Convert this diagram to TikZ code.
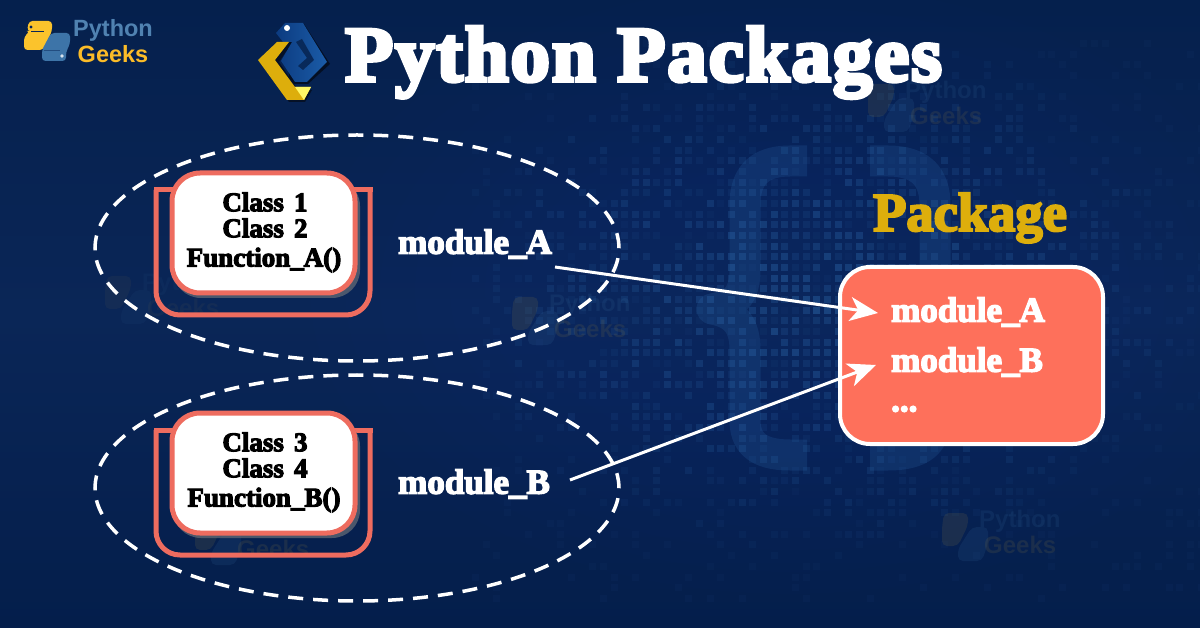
\documentclass[tikz,border=0pt]{standalone}
\usepackage{fontspec}
\setmainfont{Liberation Serif}[BoldFont={Liberation Serif Bold}]
\newfontfamily\heavyserif{Liberation Serif Bold}[FakeBold=4]
\newfontfamily\classserif{Liberation Serif Bold}[FakeBold=4,WordSpace=1.5]
\newfontfamily\titleserif{Liberation Serif Bold}[FakeBold=5,LetterSpace=2.7]
\newfontfamily\logosans{Liberation Sans Bold}
\usetikzlibrary{arrows.meta,shapes.geometric,calc}
\definecolor{navy}{HTML}{0A2657}
\definecolor{navytop}{HTML}{05204D}
\definecolor{navybot}{HTML}{041E4B}
\definecolor{salmon}{HTML}{EE6C5F}
\definecolor{coral}{HTML}{FE705B}
\definecolor{gold}{HTML}{DDAE0C}
\definecolor{pyblue}{HTML}{3D74A8}
\definecolor{pyyellow}{HTML}{FBC32C}
\definecolor{pixel}{HTML}{2F6DB0}
\definecolor{hexdark}{HTML}{0C3B80}
\definecolor{hexlight}{HTML}{1B5CA8}
\tikzset{
  dashring/.style={draw=white,line width=3.5pt,dash pattern=on 15pt off 10pt},
  trayframe/.style={draw=salmon,line width=5pt,rounded corners=24pt},
  trayflange/.style={fill=salmon},
  classcard/.style={draw=salmon,line width=5pt,fill=white,rounded corners=28pt,minimum width=183pt,minimum height=120pt,inner sep=0pt},
  cardshadow/.style={fill=gray!70!navy,rounded corners=28pt,opacity=.8},
  cardtext/.style={font=\classserif\fontsize{27}{27}\selectfont,text=black,inner sep=0pt},
  modtext/.style={font=\heavyserif\fontsize{35}{35}\selectfont,text=white,inner sep=0pt},
  linkarrow/.style={draw=white,line width=3pt,-{Stealth[length=28pt,width=24pt,inset=8pt]}},
  wmtext/.style={font=\logosans\fontsize{24}{24}\selectfont,inner sep=0pt},
}
% faint Python Geeks watermark: #1 x, #2 y, #3 opacity
\newcommand{\pgwatermark}[3]{%
  \begin{scope}[shift={(#1,#2)},opacity=#3]
    \fill[pyyellow!60!navy,rounded corners=5pt] (2,0) -- (26,0) -- (26,12) -- (16,33) -- (0,33) -- (0,14) -- cycle;
    \fill[pyblue,rounded corners=5pt] (30,14) -- (46,14) -- (46,30) -- (40,48) -- (16,48) -- (16,36) -- cycle;
    \node[wmtext,text=pyblue,anchor=west] (wmp#1) at (37,8) {Python};
    \node[wmtext,text=pyyellow!60!navy,anchor=west] (wmg#1) at (42,32) {Geeks};
  \end{scope}}
\begin{document}
\begin{tikzpicture}[x=1pt,y=-1pt]
\useasboundingbox (0,0) rectangle (1200,628);
% background
\shade[top color=navytop,bottom color=navybot,middle color=navy] (0,0) rectangle (1200,628);
\foreach \k in {1,...,12}{
  \fill[pixel,opacity=.012] (790,290) ellipse ({60+\k*35} and {40+\k*22});
}
% pixel field
\pgfmathsetseed{4711}
\foreach \col in {0,...,68}{
  \foreach \row in {0,...,52}{
    \pgfmathsetmacro{\px}{472+\col*10.67}
    \pgfmathsetmacro{\py}{40+\row*10.67}
    \pgfmathsetmacro{\dd}{sqrt(((\px-820)/400)^2+((\py-290)/270)^2)}
    \pgfmathsetmacro{\lev}{max(0,1-\dd)}
    \pgfmathsetmacro{\rr}{rnd}
    \pgfmathparse{(\rr<0.9*\lev+0.18)?1:0}
    \ifnum\pgfmathresult=1
      \pgfmathsetmacro{\op}{0.05+0.42*\lev*rnd}
      \fill[pixel,opacity=\op] (\px,\py) rectangle ++(7,7);
    \fi
  }
}
% braces
\draw[pixel,opacity=.2,line width=31pt,line join=round]
  (807,161) -- (790,161) .. controls (757,161) and (745,178) .. (745,205) -- (745,270)
  .. controls (745,295) and (735,305) .. (712,309)
  .. controls (735,313) and (745,325) .. (745,350) -- (745,420)
  .. controls (745,442) and (757,455) .. (790,455) -- (807,455);
\draw[pixel,opacity=.2,line width=31pt,line join=round]
  (870,161) -- (888,161) .. controls (922,161) and (935,178) .. (935,205) -- (935,270)
  .. controls (935,295) and (945,305) .. (968,309)
  .. controls (945,313) and (935,325) .. (935,350) -- (935,420)
  .. controls (935,442) and (922,455) .. (888,455) -- (870,455);
% watermarks
\pgwatermark{868}{84}{.14}
\pgwatermark{942}{513}{.14}
\pgwatermark{105}{276}{.07}
\pgwatermark{512}{297}{.14}
\pgwatermark{195}{517}{.14}
% logo, upper left
\fill[pyyellow,rounded corners=3.5pt] (29,21) -- (52,21) -- (52,31) -- (43,50) -- (24,50) -- (24,37) -- (30,31) -- (27,31) -- cycle;
\draw[navy,line width=.8pt] (31,31.5) -- (44,31.5);
\fill[pyblue,rounded corners=3.5pt] (51,33) -- (70,33) -- (70,44) -- (66,52) -- (66,61) -- (42,61) -- (42,50) -- cycle;
\draw[navy!50!pyblue,line width=.8pt] (44,50.5) -- (60,50.5);
\fill[navy] (31,27) circle (1.6);
\fill[white!80!pyblue] (62,56) circle (1.8);
\node[font=\logosans\fontsize{23.5}{23.5}\selectfont,text=pyblue!90!white,inner sep=0pt] (brandtop) at (113,30) {Python};
\node[font=\logosans\fontsize{23.5}{23.5}\selectfont,text=pyyellow!90!orange,inner sep=0pt] (brandbot) at (113,54) {Geeks};
% title logo
\fill[black!60!navy] (284,27) -- (304,24) -- (330,64) -- (308,84) -- (290,84) -- cycle;
\fill[black!55!navy] (260,62) -- (279,44) -- (291,44) -- (279,62) -- (298,90) -- (312,90) -- (305,102) -- (289,102) -- cycle;
\shade[left color=hexdark,right color=hexlight] (276,33) -- (285,23) -- (303,23) -- (327,62) -- (307,82) -- (295,82) -- (281,61) -- (292,42) -- (283,42) -- cycle;
\fill[hexdark!70!black] (296,42) -- (302,39) -- (314,60) -- (303,70) -- (298,66) -- (307,58) -- cycle;
\fill[white] (287,28) circle (3);
\fill[gold] (277,42) -- (289,42) -- (275,60) -- (295,87) -- (311,87) -- (304,100) -- (287,100) -- (258,60) -- cycle;
\fill[yellow!60!white] (295,87) -- (311,87) -- (304,100) -- cycle;
% title
\node[font=\titleserif\fontsize{78.5}{78.5}\selectfont,text=white,anchor=base west,inner sep=0pt] (title) at (345,81) {Python Packages};
% module A
\node[dashring,ellipse,minimum width=524pt,minimum height=226pt,inner sep=0pt] (ringA) at (357,248) {};
\draw[trayframe] (156,190) -- (156,315) -- (370,315) -- (370,190);
\fill[trayflange] (153.5,187.5) rectangle (180,192.5);
\fill[trayflange] (345,187.5) rectangle (372.5,192.5);
\fill[cardshadow] (173,178) rectangle (360,298);
\node[classcard] (cardA) at (263.5,233) {};
\node[cardtext] (c1) at (265,202) {Class 1};
\node[cardtext] (c2) at (265,228) {Class 2};
\node[cardtext] (fA) at (264,260) {Function\_A()};
\node[modtext,anchor=west] (labelA) at (398,244) {module\_A};
% module B
\node[dashring,ellipse,minimum width=524pt,minimum height=226pt,inner sep=0pt] (ringB) at (357,488) {};
\draw[trayframe] (156,430) -- (156,555) -- (370,555) -- (370,430);
\fill[trayflange] (153.5,427.5) rectangle (180,432.5);
\fill[trayflange] (345,427.5) rectangle (372.5,432.5);
\fill[cardshadow] (173,418) rectangle (360,538);
\node[classcard] (cardB) at (263.5,473) {};
\node[cardtext] (c3) at (265,442) {Class 3};
\node[cardtext] (c4) at (265,468) {Class 4};
\node[cardtext] (fB) at (264,500) {Function\_B()};
\node[modtext,anchor=west] (labelB) at (398,484) {module\_B};
% package
\node[font=\heavyserif\fontsize{54.5}{54.5}\selectfont,text=gold,inner sep=0pt] (pkgtitle) at (970,218) {Package};
\node[draw=white,line width=4pt,fill=coral,rounded corners=30pt,minimum width=263pt,minimum height=177pt,inner sep=0pt] (pkg) at (971.5,355.5) {};
\node[modtext,anchor=west] (itemA) at (891,312) {module\_A};
\node[modtext,anchor=west] (itemB) at (891,362) {module\_B};
\node[modtext,anchor=west] (itemC) at (891,409) {...};
% links
\coordinate (startA) at (555,267);
\coordinate (endA) at (878,313);
\coordinate (startB) at (570,480);
\coordinate (endB) at (876,365);
\draw[linkarrow] (startA) -- (endA);
\draw[linkarrow] (startB) -- (endB);
\end{tikzpicture}
\end{document}
